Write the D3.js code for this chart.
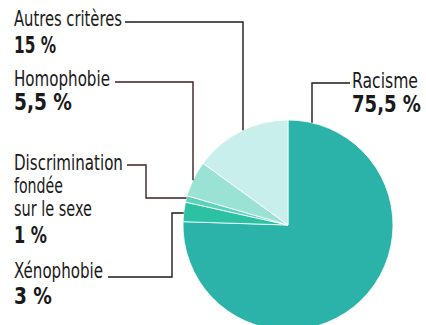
<!DOCTYPE html>
<html><head><meta charset="utf-8">
<script src="https://cdn.jsdelivr.net/npm/d3@7"></script>
<style>
html,body{margin:0;padding:0;background:#fff;}
svg{display:block;}
text{font-family:"Liberation Sans Narrow","DejaVu Sans Condensed","Roboto Condensed","Liberation Sans",sans-serif;fill:#1a1a1a;}
</style></head>
<body><svg id="c" width="426" height="325"></svg>
<script>
// Data (clockwise from 12 o'clock)
const categories = ["Racisme", "Xénophobie", "Discrimination fondée sur le sexe", "Homophobie", "Autres critères"];
const values = [75.5, 3, 1, 5.5, 15];
const valueLabels = ["75,5 %", "3 %", "1 %", "5,5 %", "15 %"];
const nameLines = [["Racisme"], ["Xénophobie"], ["Discrimination", "fondée", "sur le sexe"], ["Homophobie"], ["Autres critères"]];
const colors = ["#2bb3a9", "#2dc1a3", "#5dd2bb", "#9ae2d3", "#c9efec"];

const svg = d3.select("#c");
const cx = 288, cy = 225, R = 105;

const pie = d3.pie().sort(null).value(d => d).startAngle(0).endAngle(2 * Math.PI);
const arcs = pie(values);
const arc = d3.arc().innerRadius(0).outerRadius(R);

const g = svg.append("g").attr("transform", `translate(${cx},${cy})`);
g.selectAll("path").data(arcs).join("path")
  .attr("d", arc)
  .attr("fill", (d, i) => colors[i])
  .attr("stroke", "#ffffff")
  .attr("stroke-width", 0.8)
  .attr("stroke-linejoin", "round");

// Label layout (text positions, widths)
const labelLayout = [
  {x: 352, nameBase: 88, nameW: [66], valBase: 112, valW: 69},
  {x: 14, nameBase: 278, nameW: [89], valBase: 304, valW: 38},
  {x: 14, nameBase: 170, nameW: [109, 49, 78], valBase: 243, valW: 33, lineH: 23},
  {x: 14, nameBase: 86, nameW: [96], valBase: 110, valW: 58},
  {x: 14, nameBase: 26, nameW: [108], valBase: 53, valW: 42}
];

// Draw a text horizontally scaled to a given width (condensed look)
function fitText(str, x, y, w, size, bold) {
  const t = svg.append("text")
    .attr("font-size", size)
    .attr("font-weight", bold ? "bold" : "normal")
    .text(str);
  const nat = t.node().getComputedTextLength();
  const sx = w / nat;
  t.attr("transform", `translate(${x},${y}) scale(${sx},1)`);
  return t;
}

labelLayout.forEach((L, i) => {
  nameLines[i].forEach((t, j) => {
    fitText(t, L.x, L.nameBase + j * (L.lineH || 0), L.nameW[j], 20.5, false);
  });
  fitText(valueLabels[i], L.x, L.valBase, L.valW, 22.5, true);
});

// Point on pie edge given x (upper half) or y (left half)
const edgeAtX = x => cy - Math.sqrt(R * R - (x - cx) * (x - cx));
const edgeAtY = y => cx - Math.sqrt(R * R - (y - cy) * (y - cy));

const leaders = [
  [[350, 83], [312, 83], [312, edgeAtX(312)]],
  [[108, 277], [172, 277], [172, 213], [edgeAtY(213), 213]],
  [[127, 165], [146, 165], [146, 198], [edgeAtY(198), 198]],
  [[115, 82], [193, 82], [193, edgeAtX(193)]],
  [[125, 22], [243, 22], [243, edgeAtX(243)]]
];
const line = d3.line();
svg.selectAll("path.leader").data(leaders).join("path")
  .attr("class", "leader")
  .attr("d", line)
  .attr("fill", "none")
  .attr("stroke", (d, i) => (i === 2 || i === 3) ? "#3d1f22" : "#1e1a1a")
  .attr("stroke-width", 1.4);
</script></body></html>
